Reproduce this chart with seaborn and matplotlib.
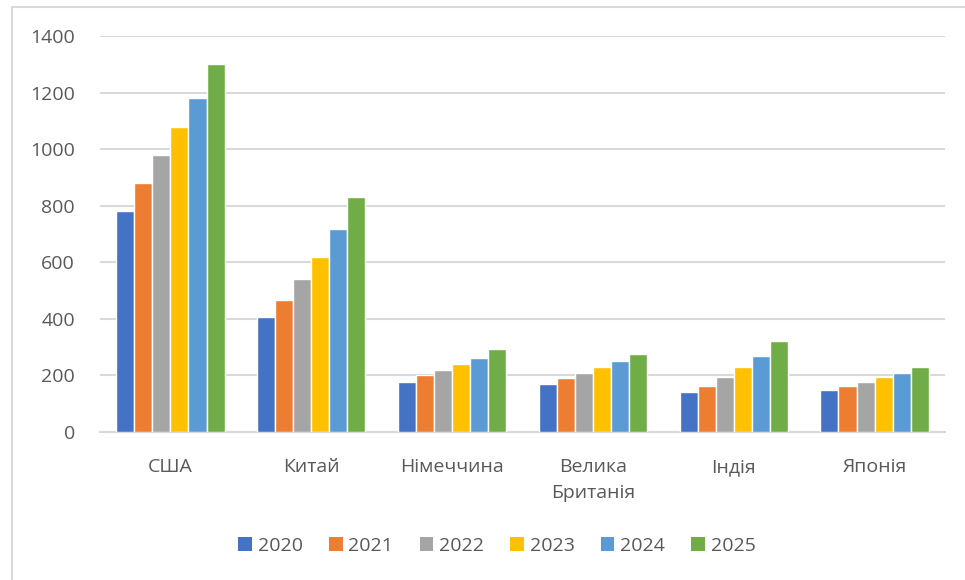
import matplotlib
matplotlib.use("Agg")
import matplotlib.pyplot as plt
import seaborn as sns
import pandas as pd
from matplotlib.lines import Line2D
from matplotlib.patches import Patch

categories = ["США", "Китай", "Німеччина", "Велика\nБританія", "Індія", "Японія"]
years = ["2020", "2021", "2022", "2023", "2024", "2025"]
v2020 = [780, 408, 177, 168, 140, 148]
v2021 = [880, 466, 200, 190, 163, 163]
v2022 = [980, 542, 218, 210, 195, 177]
v2023 = [1080, 618, 242, 231, 231, 195]
v2024 = [1180, 718, 263, 250, 269, 210]
v2025 = [1300, 832, 292, 274, 320, 231]
yticks = [0, 200, 400, 600, 800, 1000, 1200, 1400]
colors = ["#4472C4", "#ED7D31", "#A5A5A5", "#FFC000", "#5B9BD5", "#70AD47"]

series = [v2020, v2021, v2022, v2023, v2024, v2025]
rows = []
for y, vals in zip(years, series):
    for c, v in zip(categories, vals):
        rows.append({"country": c, "year": y, "value": v})
df = pd.DataFrame(rows)

sns.set_style("white")
plt.rcParams["font.family"] = ["Open Sans", "DejaVu Sans"]
text_color = "#595959"

fig = plt.figure(figsize=(9.65, 5.8), dpi=100)
ax = fig.add_axes([100 / 965, 1 - 432 / 580, 845 / 965, 396 / 580])

sns.barplot(data=df, x="country", y="value", hue="year", order=categories,
            hue_order=years, palette=colors, saturation=1, width=0.77, ax=ax,
            edgecolor="white", linewidth=1.0, legend=False, zorder=3)

ax.set_ylim(0, 1400)
ax.set_yticks(yticks)
ax.set_yticklabels([str(t) for t in yticks])
ax.yaxis.grid(True, color="#D9D9D9", linewidth=1.5, zorder=0)
ax.set_axisbelow(True)
for s in ["top", "right", "left"]:
    ax.spines[s].set_visible(False)
ax.spines["bottom"].set_color("#D9D9D9")
ax.spines["bottom"].set_linewidth(1.5)
ax.set_xlabel("")
ax.set_ylabel("")
ax.tick_params(axis="both", length=0, labelsize=14, colors=text_color)
ax.tick_params(axis="y", pad=18)
ax.tick_params(axis="x", pad=19)
for lab in ax.get_xticklabels():
    lab.set_linespacing(1.55)
    lab.set_verticalalignment("top")

handles = [Patch(facecolor=c, edgecolor="none") for c in colors]
fig.legend(handles, years, loc="center", bbox_to_anchor=(497 / 965, 1 - 546 / 580),
           ncol=6, frameon=False, fontsize=14, handlelength=0.7, handleheight=0.7,
           handletextpad=0.3, columnspacing=1.35, labelcolor=text_color)

# outer chart border (partially visible)
fig.add_artist(Line2D([12 / 965, 12 / 965], [0, 1 - 7 / 580], transform=fig.transFigure,
                      color="#D9D9D9", linewidth=1.5))
fig.add_artist(Line2D([12 / 965, 1], [1 - 7 / 580, 1 - 7 / 580], transform=fig.transFigure,
                      color="#D9D9D9", linewidth=1.5))

fig.savefig("out.png", dpi=100)
